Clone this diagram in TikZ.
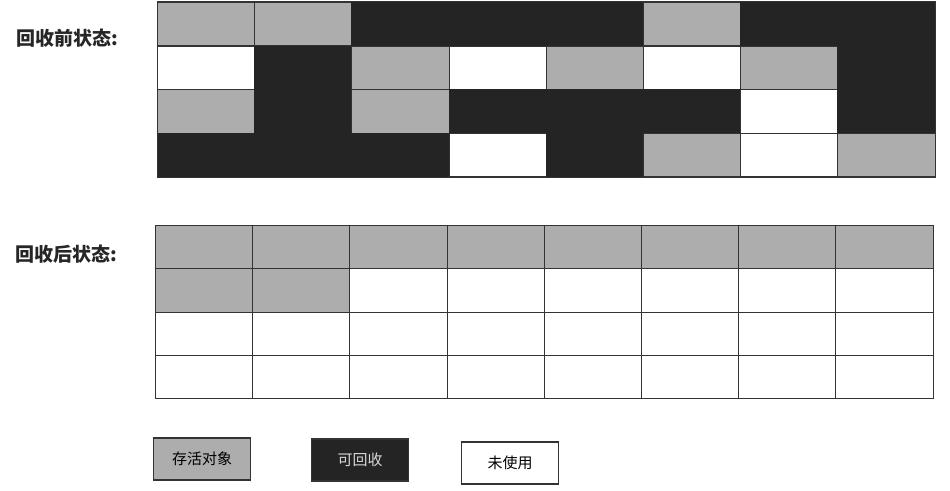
\documentclass[tikz,border=0pt]{standalone}
\usepackage{fontspec}
\setmainfont{Noto Sans CJK SC}
\usepackage{tikz}

\begin{document}
\begin{tikzpicture}[x=0.5pt, y=-0.5pt,
  cell/.style = {draw=black!80, line width=0.5pt, rectangle, inner sep=0pt, anchor=north west,
    minimum width=48.6pt, minimum height=21.7pt},
  live/.style = {cell, fill=black!32},
  dead/.style = {cell, draw=black!86, fill=black!86},
  free/.style = {cell, fill=white},
  caption/.style = {font=\fontsize{9.5}{10}\selectfont\bfseries, text=black!85},
  key/.style = {draw=black!80, line width=0.6pt, rectangle, minimum width=48.5pt, minimum height=21pt,
    font=\fontsize{7.5}{8}\selectfont}]

\useasboundingbox (0,0) rectangle (950,491);

% before collection
\node[caption] (pre) at (67,38) {回收前状态:};
\foreach \s [count=\i from 0] in {live,live,dead,dead,dead,live,dead,dead,
                                 free,dead,live,free,live,free,live,dead,
                                 live,dead,live,dead,dead,dead,free,dead,
                                 dead,dead,dead,free,dead,live,free,live} {
  \pgfmathtruncatemacro{\c}{mod(\i,8)}
  \pgfmathtruncatemacro{\r}{div(\i,8)}
  \node[\s] (pre-\r-\c) at (157+97.2*\c, 2+43.6*\r) {};
}
\draw[black!80, line width=0.5pt] (pre-0-0.north west) rectangle (pre-3-7.south east);

% after collection
\node[caption] (post) at (66,254) {回收后状态:};
\foreach \s [count=\i from 0] in {live,live,live,live,live,live,live,live,
                                 live,live,free,free,free,free,free,free,
                                 free,free,free,free,free,free,free,free,
                                 free,free,free,free,free,free,free,free} {
  \pgfmathtruncatemacro{\c}{mod(\i,8)}
  \pgfmathtruncatemacro{\r}{div(\i,8)}
  \node[\s] (post-\r-\c) at (155+97.2*\c, 225+43.3*\r) {};
}

% legend
\node[key, fill=black!32] (alive) at (202,459) {存活对象};
\node[key, fill=black!86, text=white!85!black] (garbage) at (360,460) {可回收};
\node[key, fill=white] (unused) at (510,463) {未使用};

\end{tikzpicture}
\end{document}
